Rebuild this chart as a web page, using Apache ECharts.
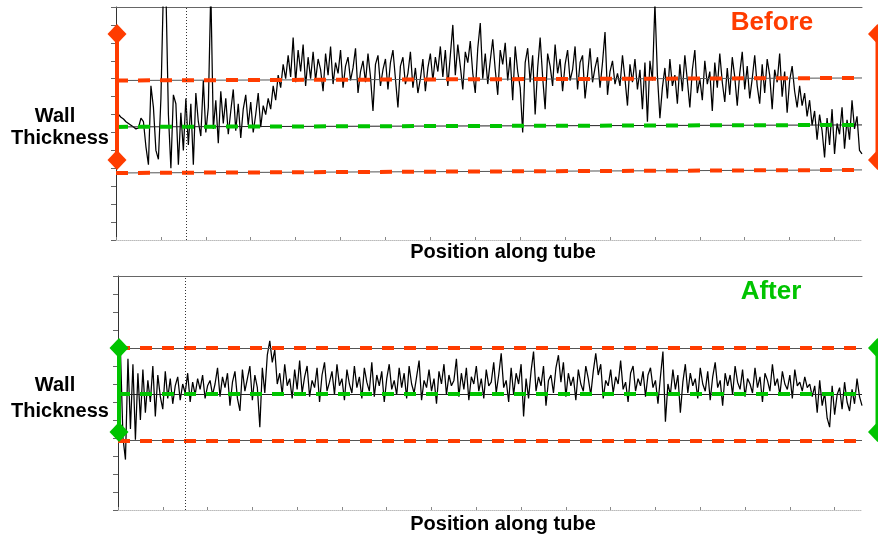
<!DOCTYPE html>
<html><head><meta charset="utf-8">
<script src="https://cdn.jsdelivr.net/npm/echarts@6/dist/echarts.min.js"></script>
<style>html,body{margin:0;padding:0;background:#fff}#c{width:878px;height:538px}</style>
</head><body><div id="c"></div>
<script>
// Wall thickness readings along the tube (axis units), before straightening
const beforeValues = [
7.1,7.0,6.85,6.75,6.6,6.5,6.4,6.3,6.2,6.25,
6.8,6.6,5.2,4.2,8.6,7.4,5.0,4.5,7.9,14,
14,7.0,4.0,8.1,7.6,4.2,7.1,5.0,7.9,5.3,
7.6,4.2,8.2,6.6,5.8,8.9,6.0,7.4,14,6.2,
7.8,5.4,8.3,6.5,7.9,5.9,7.2,8.4,6.1,7.6,5.7,7.3,8.1,6.4,7.7,6.0,7.0,8.2,6.3,7.5,
7.0,7.9,7.3,8.6,7.8,9.2,8.5,9.8,9.0,10.3,
9.1,11.3,8.8,10.6,9.4,10.9,8.6,10.2,9.0,10.5,
8.9,10.1,9.5,8.3,10.4,9.2,10.8,8.7,9.9,9.3,
10.6,8.5,9.7,10.2,8.9,9.6,10.7,8.2,9.4,10.0,
8.8,10.4,9.1,7.2,9.8,10.3,8.6,9.5,10.1,8.4,
9.9,10.6,9.0,7.4,9.7,10.2,8.7,9.3,10.5,8.5,
9.6,8.2,
9.0,10.1,8.3,9.6,10.4,8.9,10.2,9.4,10.8,9.1,
10.6,8.6,10.3,12.0,9.2,10.9,9.7,8.4,10.5,9.9,
11.1,9.3,8.2,10.7,12.1,9.0,10.4,8.7,10.0,11.2,
9.5,8.1,10.6,9.8,11.0,8.9,10.2,7.8,10.8,9.4,
8.5,6.0,9.9,10.7,8.8,10.3,7.0,9.6,11.3,9.1,
7.3,10.4,9.7,8.6,10.9,9.3,10.1,8.3,9.8,10.6,
8.9,9.5,10.8,8.4,9.9,10.3,7.9,9.2,10.7,8.8,
9.6,10.2,8.5,9.9,11.6,8.1,9.4,10.0,8.7,9.3,
8.6,10.3,9.0,7.5,9.8,8.8,10.1,8.4,9.5,7.3,9.9,6.6,10.0,8.9,
13.2,9.2,6.8,8.5,
9.6,7.9,10.1,8.6,9.2,7.6,9.8,8.3,10.3,8.9,
7.4,9.5,10.6,8.2,9.0,7.8,10.0,8.7,9.4,7.2,
9.9,8.5,10.4,8.8,7.7,9.6,8.1,10.2,9.1,7.5,
9.3,10.5,8.4,9.7,7.9,9.0,10.3,8.6,7.6,9.8,
8.2,10.1,9.2,7.3,9.5,8.8,10.4,8.0,9.4,7.1,
8.9,9.7,8.3,7.4,
8.6,7.5,8.2,6.9,7.8,6.4,7.2,5.6,7.0,6.1,
4.6,6.8,5.3,7.3,4.8,6.5,5.9,7.4,5.1,6.7,
5.6,7.8,6.2,6.9,5.0,4.8
];
// after straightening
const afterValues = [
6.5,8.8,4.0,2.8,8.4,4.5,8.1,3.9,7.6,5.0,
7.8,5.4,7.2,6.0,8.0,5.2,7.5,6.3,5.6,7.7,
6.2,7.3,5.9,6.9,7.4,6.1,7.0,6.5,7.6,6.0,
7.1,6.4,7.3,6.7,7.5,6.2,6.9,7.2,6.4,7.0,
7.9,6.3,7.4,6.8,7.6,5.8,7.1,7.7,6.2,5.5,
7.8,6.6,7.3,8.0,6.1,7.5,6.8,4.6,7.9,6.5,
8.6,9.4,8.2,8.9,7.0,
7.6,6.4,8.1,6.9,7.3,6.2,7.8,6.7,8.3,6.5,
7.4,8.0,6.3,7.2,6.8,7.9,6.0,7.5,8.2,6.6,
7.1,7.7,6.4,8.1,6.9,7.3,6.1,7.8,7.0,6.5,
8.0,6.8,7.4,6.2,7.9,7.1,6.6,8.2,6.3,7.5,
6.9,7.7,6.0,7.3,8.1,6.7,7.2,6.4,7.9,6.8,
7.6,6.2,8.0,7.0,6.5,7.4,8.3,6.1,7.2,6.8,
7.8,6.6,7.3,5.9,7.7,7.0,8.1,6.4,7.5,6.9,
7.2,8.4,6.3,7.6,6.7,7.9,6.1,7.4,7.0,8.0,
6.6,7.3,6.2,7.8,6.9,7.1,8.2,6.5,7.5,8.7,
6.8,7.2,6.0,7.9,6.4,7.6,7.0,8.1,5.2,7.3,
6.2,7.7,8.8,6.6,7.4,6.9,8.0,5.8,7.2,7.5,
6.5,7.9,8.6,7.1,8.2,6.3,7.6,6.9,7.4,6.1,
7.8,7.0,6.6,8.0,7.3,6.4,7.7,8.7,7.5,8.1,
6.2,7.2,6.9,7.8,6.5,7.4,7.0,8.3,6.7,7.1,
6.0,7.6,8.0,6.6,7.3,6.9,7.7,6.3,7.5,7.9,
6.8,7.2,5.9,7.4,8.8,4.9,7.0,6.4,7.8,6.7,
7.5,5.4,7.1,8.1,6.5,7.6,6.9,7.3,6.2,7.9,
7.0,6.6,7.7,6.1,7.4,8.2,6.8,7.2,5.8,7.6,
6.9,7.5,6.4,8.0,7.1,6.7,7.8,6.3,7.3,7.0,
6.5,7.9,6.8,7.4,6.0,7.6,7.2,6.6,8.1,6.9,
7.3,6.4,7.7,7.0,6.7,7.5,6.2,7.8,6.9,7.1,
6.6,7.4,6.8,7.0,6.3,
6.9,5.4,7.2,5.8,6.5,5.1,4.6,6.9,5.3,6.4,
6.8,5.6,7.1,6.0,5.5,6.7,5.9,7.3,6.3,5.8
];
// tolerance lines [start, end] in axis units
const beforeUpper = [8.9, 9.04];
const beforeNominal = [6.31, 6.42];
const beforeLower = [3.74, 3.91];
const afterUpper = [9.0, 9.0];
const afterNominal = [6.44, 6.44];
const afterLower = [3.86, 3.86];
// annotation arrow spans (axis units)
const beforeSpan = [11.5, 4.46];
const afterSpan = [9.0, 4.33];
const yTickMax = 13;
const markerIndexBefore = 28;
const markerIndexAfter = 27;

const catsBefore = beforeValues.map((_, i) => String(i));
const catsAfter = afterValues.map((_, i) => String(i));

const RED = '#ff3c00', GREEN = '#00c400';

function limitLines(up, nom, low, n) {
  const last = n - 1;
  const mk = (arr, color, width, type) => [
    {coord: [0, arr[0]], lineStyle: {color, width, type}},
    {coord: [last, arr[1]]}
  ];
  return [
    mk(up, '#555', 1, 'solid'), mk(nom, '#222', 1, 'solid'), mk(low, '#555', 1, 'solid'),
    mk(up, RED, 4, [12, 10]), mk(nom, GREEN, 4, [12, 10]), mk(low, RED, 4, [12, 10])
  ];
}

function gridAxes(gi, cats) {
  return [
    {type: 'category', gridIndex: gi, data: cats, boundaryGap: false,
     axisLine: {show: true, lineStyle: {color: '#bbb', type: 'dotted'}},
     axisTick: {show: true, inside: true, length: 3, interval: 17, lineStyle: {color: '#888'}},
     axisLabel: {show: false}, splitLine: {show: false}},
    {type: 'category', gridIndex: gi, position: 'top', data: cats, boundaryGap: false,
     axisLine: {show: true, lineStyle: {color: '#666'}},
     axisTick: {show: false}, axisLabel: {show: false}}
  ];
}
function yAx(gi) {
  return {type: 'value', gridIndex: gi, min: 0, max: yTickMax, interval: 1,
    axisLine: {show: true, lineStyle: {color: '#333'}},
    axisTick: {show: true, inside: false, length: 5, lineStyle: {color: '#666'}},
    axisLabel: {show: false}, splitLine: {show: false}};
}

const chart = echarts.init(document.getElementById('c'), null, {renderer: 'canvas'});
const option = {
  animation: false,
  backgroundColor: '#fff',
  grid: [
    {left: 116, top: 7, width: 746, height: 233},
    {left: 118, top: 276, width: 744, height: 234}
  ],
  xAxis: [].concat(gridAxes(0, catsBefore), gridAxes(1, catsAfter)),
  yAxis: [yAx(0), yAx(1)],
  series: [
    {type: 'line', xAxisIndex: 0, yAxisIndex: 0, data: beforeValues, showSymbol: false,
     lineStyle: {color: '#000', width: 1.25}, clip: true,
     markLine: {silent: true, symbol: ['none', 'none'], label: {show: false},
       data: limitLines(beforeUpper, beforeNominal, beforeLower, beforeValues.length).concat([
         {xAxis: markerIndexBefore, lineStyle: {color: '#333', width: 1, type: [1, 2]}}])}},
    {type: 'line', xAxisIndex: 2, yAxisIndex: 1, data: afterValues, showSymbol: false,
     lineStyle: {color: '#000', width: 1.25}, clip: true,
     markLine: {silent: true, symbol: ['none', 'none'], label: {show: false},
       data: limitLines(afterUpper, afterNominal, afterLower, afterValues.length).concat([
         {xAxis: markerIndexAfter, lineStyle: {color: '#333', width: 1, type: [1, 2]}}])}}
  ]
};
chart.setOption(option);

function arrow(x, y1, y2, color) {
  const hw = 9.5, hh = 10;
  const d = (y) => ({type: 'polygon', shape: {points: [[x, y - hh], [x + hw, y], [x, y + hh], [x - hw, y]]},
    style: {fill: color}, z: 100});
  return [{type: 'line', shape: {x1: x, y1: y1, x2: x, y2: y2}, style: {stroke: color, lineWidth: 4}, z: 100},
    d(y1), d(y2)];
}
function txt(text, x, y, size, color) {
  return {type: 'text', x: x, y: y, z: 100,
    style: {text: text, font: 'bold ' + size + 'px "Liberation Sans", Arial, sans-serif', fill: color,
      align: 'center', verticalAlign: 'middle'}};
}
const yb = (v) => chart.convertToPixel({gridIndex: 0}, [0, v])[1];
const ya = (v) => chart.convertToPixel({gridIndex: 1}, [0, v])[1];
const xLeftB = chart.convertToPixel({gridIndex: 0}, [0, 0])[0] + 1;
const xLeftA = chart.convertToPixel({gridIndex: 1}, [0, 0])[0] + 1;
const xRight = 877.5;

const graphics = [].concat(
  arrow(xLeftB, yb(beforeSpan[0]), yb(beforeSpan[1]), RED),
  arrow(xRight, yb(beforeSpan[0]), yb(beforeSpan[1]), RED),
  arrow(xLeftA, ya(afterSpan[0]), ya(afterSpan[1]), GREEN),
  arrow(xRight, ya(afterSpan[0]), ya(afterSpan[1]), GREEN),
  [
    txt('Wall', 55, 116, 20, '#000'),
    txt('Thickness', 60, 138, 20, '#000'),
    txt('Wall', 55, 385, 20, '#000'),
    txt('Thickness', 60, 411, 20, '#000'),
    txt('Position along tube', 503, 252, 20, '#000'),
    txt('Position along tube', 503, 524, 20, '#000'),
    txt('Before', 772, 23, 26, RED),
    txt('After', 771, 292, 26, GREEN)
  ]
);
chart.setOption({graphic: graphics});
</script>
</body></html>
